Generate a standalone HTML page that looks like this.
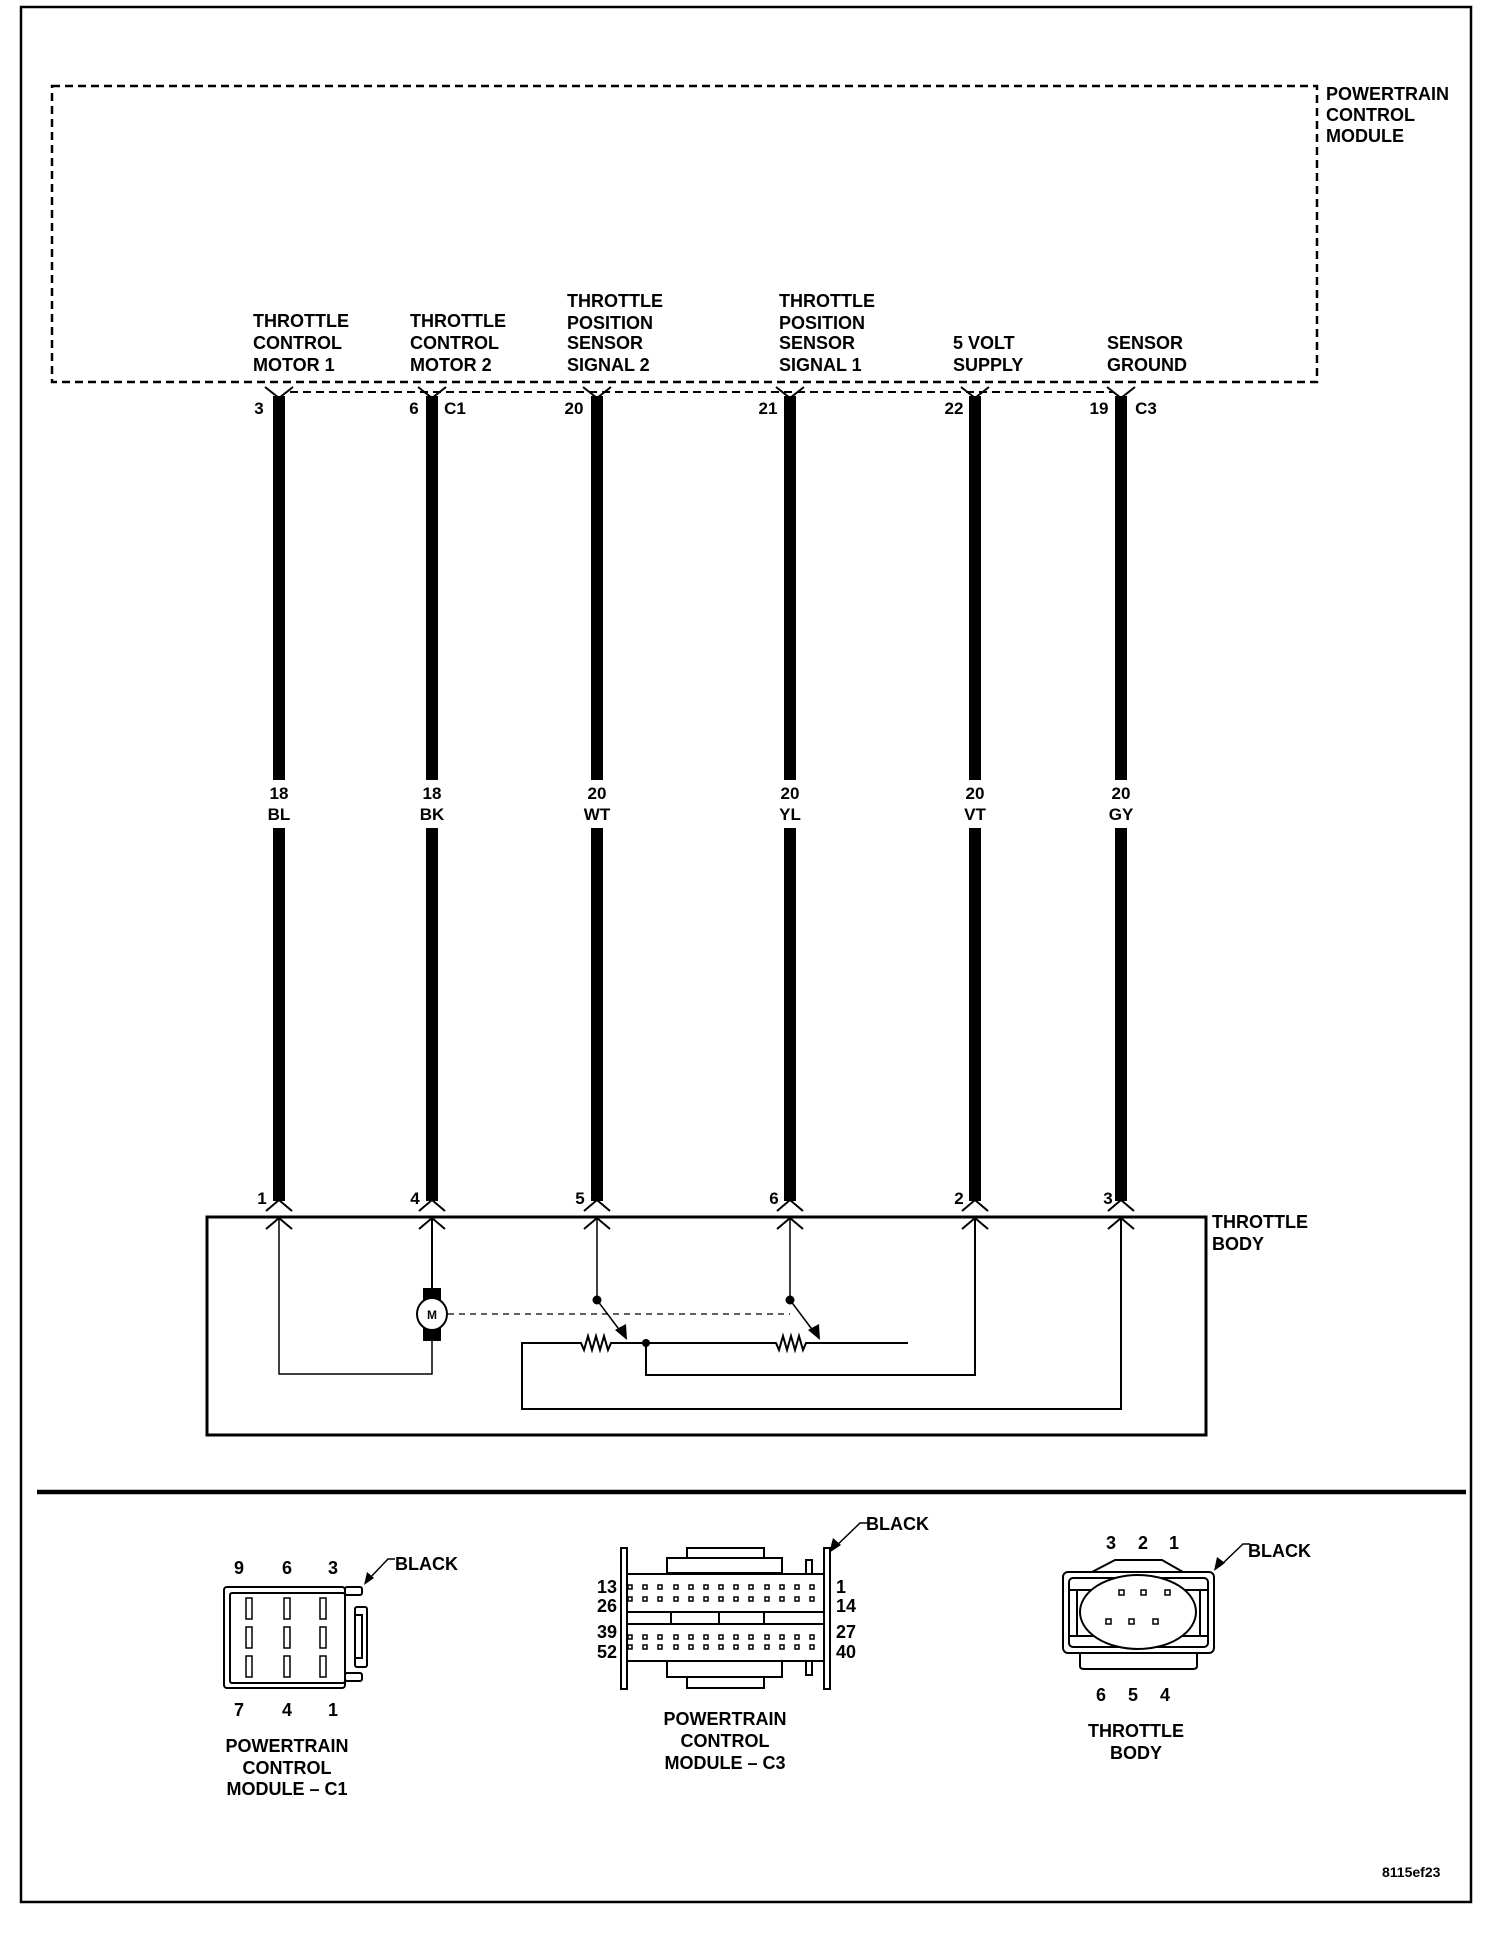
<!DOCTYPE html>
<html><head><meta charset="utf-8"><style>
html,body{margin:0;padding:0;background:#fff;}
svg{display:block;}
text{font-family:"Liberation Sans",Arial,sans-serif;font-weight:bold;fill:#000;}
</style></head><body>
<svg width="1504" height="1934" viewBox="0 0 1504 1934" xmlns="http://www.w3.org/2000/svg">
<rect x="0" y="0" width="1504" height="1934" fill="#fff"/>
<rect x="21" y="7" width="1450" height="1895" fill="none" stroke="#000" stroke-width="2.5"/>
<rect x="52" y="86" width="1265" height="296" fill="none" stroke="#000" stroke-width="2.5" stroke-dasharray="8,5"/>
<line x1="290" y1="392" x2="1113" y2="392" stroke="#000" stroke-width="2" stroke-dasharray="8,5"/>
<g font-size="18">
<text x="1326" y="100">POWERTRAIN</text>
<text x="1326" y="121">CONTROL</text>
<text x="1326" y="142">MODULE</text>
<text x="253" y="327">THROTTLE</text><text x="253" y="349">CONTROL</text><text x="253" y="371">MOTOR 1</text>
<text x="410" y="327">THROTTLE</text><text x="410" y="349">CONTROL</text><text x="410" y="371">MOTOR 2</text>
<text x="567" y="307">THROTTLE</text><text x="567" y="329">POSITION</text><text x="567" y="349">SENSOR</text><text x="567" y="371">SIGNAL 2</text>
<text x="779" y="307">THROTTLE</text><text x="779" y="329">POSITION</text><text x="779" y="349">SENSOR</text><text x="779" y="371">SIGNAL 1</text>
<text x="953" y="349">5 VOLT</text><text x="953" y="371">SUPPLY</text>
<text x="1107" y="349">SENSOR</text><text x="1107" y="371">GROUND</text>
<text x="1212" y="1228">THROTTLE</text><text x="1212" y="1250">BODY</text>
</g>
<g font-size="17" text-anchor="middle">
<text x="259" y="414">3</text>
<text x="414" y="414">6</text><text x="455" y="414">C1</text>
<text x="574" y="414">20</text>
<text x="768" y="414">21</text>
<text x="954" y="414">22</text>
<text x="1099" y="414">19</text><text x="1146" y="414">C3</text>
<text x="262" y="1204">1</text>
<text x="415" y="1204">4</text>
<text x="580" y="1204">5</text>
<text x="774" y="1204">6</text>
<text x="959" y="1204">2</text>
<text x="1108" y="1204">3</text>
</g>
<g stroke="#000" fill="none">
<g stroke-width="12">
<line x1="279" y1="396" x2="279" y2="780"/><line x1="279" y1="828" x2="279" y2="1201"/>
<line x1="432" y1="396" x2="432" y2="780"/><line x1="432" y1="828" x2="432" y2="1201"/>
<line x1="597" y1="396" x2="597" y2="780"/><line x1="597" y1="828" x2="597" y2="1201"/>
<line x1="790" y1="396" x2="790" y2="780"/><line x1="790" y1="828" x2="790" y2="1201"/>
<line x1="975" y1="396" x2="975" y2="780"/><line x1="975" y1="828" x2="975" y2="1201"/>
<line x1="1121" y1="396" x2="1121" y2="780"/><line x1="1121" y1="828" x2="1121" y2="1201"/>
</g>
<g stroke-width="2">
<path d="M265 387 L279 398 L293 387"/><path d="M418 387 L432 398 L446 387"/><path d="M583 387 L597 398 L611 387"/>
<path d="M776 387 L790 398 L804 387"/><path d="M961 387 L975 398 L989 387"/><path d="M1107 387 L1121 398 L1135 387"/>
<path d="M266 1211 L279 1200 L292 1211"/><path d="M419 1211 L432 1200 L445 1211"/><path d="M584 1211 L597 1200 L610 1211"/>
<path d="M777 1211 L790 1200 L803 1211"/><path d="M962 1211 L975 1200 L988 1211"/><path d="M1108 1211 L1121 1200 L1134 1211"/>
<path d="M266 1229 L279 1218 L292 1229"/><path d="M419 1229 L432 1218 L445 1229"/><path d="M584 1229 L597 1218 L610 1229"/>
<path d="M777 1229 L790 1218 L803 1229"/><path d="M962 1229 L975 1218 L988 1229"/><path d="M1108 1229 L1121 1218 L1134 1229"/>
</g>
</g>
<g font-size="17" text-anchor="middle">
<text x="279" y="799">18</text><text x="279" y="820">BL</text>
<text x="432" y="799">18</text><text x="432" y="820">BK</text>
<text x="597" y="799">20</text><text x="597" y="820">WT</text>
<text x="790" y="799">20</text><text x="790" y="820">YL</text>
<text x="975" y="799">20</text><text x="975" y="820">VT</text>
<text x="1121" y="799">20</text><text x="1121" y="820">GY</text>
</g>
<rect x="207" y="1217" width="999" height="218" fill="none" stroke="#000" stroke-width="3"/>
<g stroke="#000" fill="none">
<polyline points="279,1218 279,1374 432,1374 432,1341" stroke-width="1.5"/>
<line x1="432" y1="1218" x2="432" y2="1288" stroke-width="2"/>
<rect x="423" y="1288" width="18" height="53" fill="#000" stroke="none"/>
<ellipse cx="432" cy="1314" rx="15" ry="16" fill="#fff" stroke-width="2"/>
<line x1="448" y1="1314" x2="790" y2="1314" stroke-width="1.3" stroke-dasharray="6,5"/>
<line x1="597" y1="1218" x2="597" y2="1300" stroke-width="1.5"/>
<line x1="790" y1="1218" x2="790" y2="1300" stroke-width="1.5"/>
<line x1="597" y1="1300" x2="624" y2="1336" stroke-width="1.5"/>
<line x1="790" y1="1300" x2="817" y2="1336" stroke-width="1.5"/>
<polyline points="908,1343 806,1343 803,1350 799,1336 795,1350 791,1336 787,1350 783,1336 779,1350 776,1343 611,1343 608,1350 604,1336 600,1350 596,1336 592,1350 588,1336 584,1350 581,1343 522,1343 522,1409 1121,1409 1121,1218" stroke-width="2"/>
<polyline points="646,1343 646,1375 975,1375 975,1218" stroke-width="2"/>
</g>
<circle cx="597" cy="1300" r="4.5" fill="#000"/>
<circle cx="790" cy="1300" r="4.5" fill="#000"/>
<circle cx="646" cy="1343" r="4" fill="#000"/>
<polygon points="627,1340 615,1330 626,1324" fill="#000"/>
<polygon points="820,1340 808,1330 819,1324" fill="#000"/>
<text x="432" y="1319" font-size="12" text-anchor="middle">M</text>
<line x1="37" y1="1492" x2="1466" y2="1492" stroke="#000" stroke-width="4.5"/>

<g stroke="#000" fill="none" stroke-width="2">
<rect x="224" y="1587" width="121" height="101" rx="3"/>
<rect x="230" y="1593" width="115" height="90" rx="2"/>
<rect x="345" y="1587" width="17" height="8" rx="2"/>
<rect x="345" y="1673" width="17" height="8" rx="2"/>
<rect x="355" y="1607" width="12" height="60" rx="2"/>
<rect x="355" y="1615" width="7" height="43"/>
<g stroke-width="1.5">
<rect x="246" y="1598" width="6" height="21"/><rect x="284" y="1598" width="6" height="21"/><rect x="320" y="1598" width="6" height="21"/>
<rect x="246" y="1627" width="6" height="21"/><rect x="284" y="1627" width="6" height="21"/><rect x="320" y="1627" width="6" height="21"/>
<rect x="246" y="1656" width="6" height="21"/><rect x="284" y="1656" width="6" height="21"/><rect x="320" y="1656" width="6" height="21"/>
</g>
<polyline points="395,1559 388,1559 368,1580" stroke-width="1.5"/>
</g>
<polygon points="364,1585 367,1572 374,1578" fill="#000"/>
<g font-size="18" text-anchor="middle">
<text x="239" y="1574">9</text><text x="287" y="1574">6</text><text x="333" y="1574">3</text>
<text x="239" y="1716">7</text><text x="287" y="1716">4</text><text x="333" y="1716">1</text>
<text x="287" y="1752">POWERTRAIN</text><text x="287" y="1774">CONTROL</text><text x="287" y="1795">MODULE – C1</text>
</g>
<text x="395" y="1570" font-size="18">BLACK</text>

<g stroke="#000" fill="none" stroke-width="2">
<rect x="621" y="1548" width="6" height="141"/>
<rect x="824" y="1548" width="6" height="141"/>
<rect x="687" y="1548" width="77" height="10"/>
<rect x="667" y="1558" width="115" height="15"/>
<rect x="687" y="1677" width="77" height="11"/>
<rect x="667" y="1661" width="115" height="16"/>
<rect x="806" y="1560" width="6" height="14"/>
<rect x="806" y="1661" width="6" height="14"/>
<line x1="627" y1="1574" x2="824" y2="1574"/>
<line x1="627" y1="1612" x2="824" y2="1612"/>
<line x1="627" y1="1624" x2="824" y2="1624"/>
<line x1="627" y1="1661" x2="824" y2="1661"/>
<line x1="671" y1="1612" x2="671" y2="1624"/><line x1="719" y1="1612" x2="719" y2="1624"/><line x1="764" y1="1612" x2="764" y2="1624"/>
<polyline points="868,1523 860,1523 832,1550" stroke-width="1.5"/>
</g>
<polygon points="829,1553 833,1538 841,1545" fill="#000"/>
<g fill="none" stroke="#000" stroke-width="1.5">
<path d="M628 1585h4v4h-4zM643 1585h4v4h-4zM658 1585h4v4h-4zM674 1585h4v4h-4zM689 1585h4v4h-4zM704 1585h4v4h-4zM719 1585h4v4h-4zM734 1585h4v4h-4zM749 1585h4v4h-4zM765 1585h4v4h-4zM780 1585h4v4h-4zM795 1585h4v4h-4zM810 1585h4v4h-4z"/>
<path d="M628 1597h4v4h-4zM643 1597h4v4h-4zM658 1597h4v4h-4zM674 1597h4v4h-4zM689 1597h4v4h-4zM704 1597h4v4h-4zM719 1597h4v4h-4zM734 1597h4v4h-4zM749 1597h4v4h-4zM765 1597h4v4h-4zM780 1597h4v4h-4zM795 1597h4v4h-4zM810 1597h4v4h-4z"/>
<path d="M628 1635h4v4h-4zM643 1635h4v4h-4zM658 1635h4v4h-4zM674 1635h4v4h-4zM689 1635h4v4h-4zM704 1635h4v4h-4zM719 1635h4v4h-4zM734 1635h4v4h-4zM749 1635h4v4h-4zM765 1635h4v4h-4zM780 1635h4v4h-4zM795 1635h4v4h-4zM810 1635h4v4h-4z"/>
<path d="M628 1645h4v4h-4zM643 1645h4v4h-4zM658 1645h4v4h-4zM674 1645h4v4h-4zM689 1645h4v4h-4zM704 1645h4v4h-4zM719 1645h4v4h-4zM734 1645h4v4h-4zM749 1645h4v4h-4zM765 1645h4v4h-4zM780 1645h4v4h-4zM795 1645h4v4h-4zM810 1645h4v4h-4z"/>
</g>
<g font-size="18">
<text x="617" y="1593" text-anchor="end">13</text><text x="617" y="1612" text-anchor="end">26</text>
<text x="617" y="1638" text-anchor="end">39</text><text x="617" y="1658" text-anchor="end">52</text>
<text x="836" y="1593">1</text><text x="836" y="1612">14</text>
<text x="836" y="1638">27</text><text x="836" y="1658">40</text>
<text x="866" y="1530">BLACK</text>
</g>
<g font-size="18" text-anchor="middle">
<text x="725" y="1725">POWERTRAIN</text><text x="725" y="1747">CONTROL</text><text x="725" y="1769">MODULE – C3</text>
</g>

<g stroke="#000" fill="none" stroke-width="2">
<polyline points="1092,1572 1115,1560 1162,1560 1183,1572"/>
<rect x="1063" y="1572" width="151" height="81" rx="5"/>
<rect x="1069" y="1578" width="139" height="69" rx="4"/>
<line x1="1069" y1="1590" x2="1208" y2="1590"/>
<line x1="1069" y1="1636" x2="1208" y2="1636"/>
<line x1="1077" y1="1590" x2="1077" y2="1636"/>
<line x1="1200" y1="1590" x2="1200" y2="1636"/>
<ellipse cx="1138" cy="1612" rx="58" ry="37" fill="#fff"/>
<path d="M1080 1653 V1666 Q1080 1669 1084 1669 H1193 Q1197 1669 1197 1666 V1653"/>
<g stroke-width="1.5">
<rect x="1119" y="1590" width="5" height="5"/><rect x="1141" y="1590" width="5" height="5"/><rect x="1165" y="1590" width="5" height="5"/>
<rect x="1106" y="1619" width="5" height="5"/><rect x="1129" y="1619" width="5" height="5"/><rect x="1153" y="1619" width="5" height="5"/>
</g>
<polyline points="1250,1544 1243,1544 1220,1566" stroke-width="1.5"/>
</g>
<polygon points="1214,1571 1217,1557 1225,1563" fill="#000"/>
<g font-size="18" text-anchor="middle">
<text x="1111" y="1549">3</text><text x="1143" y="1549">2</text><text x="1174" y="1549">1</text>
<text x="1101" y="1701">6</text><text x="1133" y="1701">5</text><text x="1165" y="1701">4</text>
<text x="1136" y="1737">THROTTLE</text><text x="1136" y="1759">BODY</text>
</g>
<text x="1248" y="1557" font-size="18">BLACK</text>
<text x="1382" y="1877" font-size="14">8115ef23</text>
</svg>
</body></html>
